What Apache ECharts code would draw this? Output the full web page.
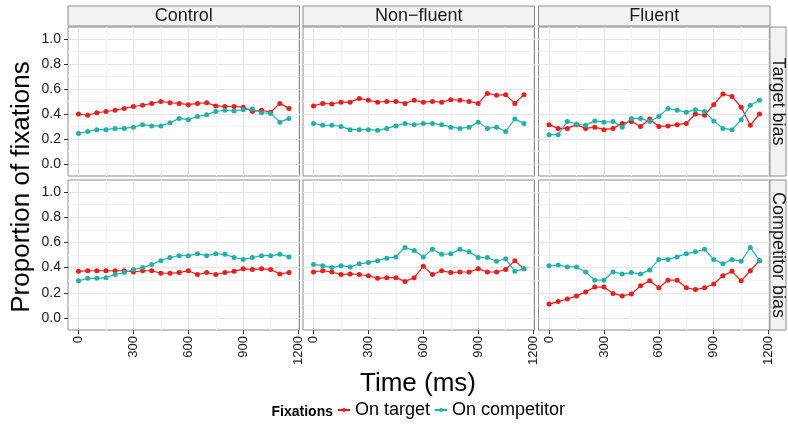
<!DOCTYPE html>
<html><head><meta charset="utf-8">
<script src="https://cdn.jsdelivr.net/npm/echarts@6/dist/echarts.min.js"></script>
<style>html,body{margin:0;padding:0;background:#fff}#c{width:788px;height:428px}</style>
</head><body><div id="c"></div>
<script>
// ---- data ----
const timeMs = [0,50,100,150,200,250,300,350,400,450,500,550,600,650,700,750,800,850,900,950,1000,1050,1100,1150];

const ctrlTargetOnTarget = [0.40,0.39,0.41,0.42,0.43,0.445,0.46,0.47,0.485,0.50,0.49,0.485,0.475,0.485,0.49,0.465,0.46,0.46,0.455,0.42,0.43,0.415,0.485,0.445];
const ctrlTargetOnComp   = [0.245,0.26,0.275,0.275,0.285,0.285,0.295,0.315,0.305,0.305,0.33,0.365,0.355,0.38,0.395,0.42,0.43,0.425,0.435,0.44,0.41,0.405,0.335,0.365];
const nfTargetOnTarget   = [0.465,0.485,0.48,0.495,0.495,0.525,0.51,0.495,0.50,0.50,0.485,0.51,0.495,0.50,0.495,0.515,0.51,0.50,0.485,0.565,0.55,0.555,0.485,0.555];
const nfTargetOnComp     = [0.325,0.31,0.31,0.30,0.275,0.275,0.275,0.27,0.285,0.305,0.325,0.315,0.325,0.325,0.315,0.295,0.285,0.295,0.335,0.285,0.295,0.26,0.36,0.325];
const flTargetOnTarget   = [0.315,0.285,0.285,0.315,0.285,0.295,0.275,0.285,0.325,0.34,0.30,0.36,0.30,0.305,0.315,0.325,0.40,0.39,0.475,0.56,0.54,0.455,0.31,0.40];
const flTargetOnComp     = [0.235,0.235,0.34,0.32,0.31,0.345,0.335,0.34,0.295,0.365,0.365,0.34,0.38,0.445,0.43,0.415,0.435,0.42,0.345,0.285,0.275,0.355,0.47,0.51];

const ctrlCompOnTarget = [0.37,0.375,0.375,0.375,0.375,0.375,0.365,0.375,0.375,0.355,0.355,0.36,0.375,0.345,0.36,0.345,0.36,0.37,0.39,0.385,0.39,0.385,0.35,0.36];
const ctrlCompOnComp   = [0.295,0.315,0.315,0.32,0.345,0.36,0.385,0.40,0.425,0.455,0.48,0.495,0.495,0.51,0.495,0.51,0.505,0.48,0.465,0.48,0.495,0.495,0.505,0.485];
const nfCompOnTarget   = [0.365,0.375,0.365,0.345,0.35,0.345,0.335,0.315,0.32,0.32,0.29,0.32,0.41,0.345,0.375,0.36,0.365,0.365,0.39,0.365,0.365,0.385,0.455,0.39];
const nfCompOnComp     = [0.425,0.415,0.40,0.415,0.405,0.43,0.44,0.455,0.475,0.485,0.56,0.535,0.485,0.545,0.505,0.51,0.545,0.525,0.48,0.48,0.45,0.47,0.37,0.39];
const flCompOnTarget   = [0.11,0.13,0.15,0.175,0.205,0.245,0.245,0.195,0.175,0.19,0.255,0.295,0.24,0.30,0.30,0.24,0.225,0.24,0.27,0.335,0.37,0.295,0.375,0.455];
const flCompOnComp     = [0.415,0.42,0.405,0.405,0.365,0.30,0.30,0.365,0.35,0.36,0.35,0.38,0.465,0.465,0.485,0.51,0.525,0.545,0.465,0.43,0.465,0.45,0.56,0.455];

const xTicks = [0,300,600,900,1200];
const xMinorTicks = [150,450,750,1050];
const yTicks = [0,0.2,0.4,0.6,0.8,1.0];
const yMinorTicks = [0.1,0.3,0.5,0.7,0.9];

const colNames = ['Control','Non\u2212fluent','Fluent'];
const rowNames = ['Target bias','Competitor bias'];
const seriesNames = ['On target','On competitor'];
const seriesColors = ['#F21A1A','#20B2AA'];
const panelData = [
  [[ctrlTargetOnTarget, ctrlTargetOnComp],[nfTargetOnTarget, nfTargetOnComp],[flTargetOnTarget, flTargetOnComp]],
  [[ctrlCompOnTarget, ctrlCompOnComp],[nfCompOnTarget, nfCompOnComp],[flCompOnTarget, flCompOnComp]]
];

// ---- layout ----
const FONT = 'Liberation Sans, Arial, Helvetica, sans-serif';
const colLeft = [68, 303, 538.5], colWidth = 231.5;
const rowTop = [27, 180], rowHeight = [149, 150];
const xMin = -57.5, xMax = 1207.5, yMin = -0.096, yMax = 1.096;

const grid = [], xAxis = [], yAxis = [], series = [], graphic = [];
let gi = 0;
for (let r = 0; r < 2; r++) {
  for (let c = 0; c < 3; c++) {
    grid.push({left: colLeft[c], top: rowTop[r], width: colWidth, height: rowHeight[r],
      show: true, backgroundColor: '#fff', borderColor: '#8c8c8c', borderWidth: 1,
      containLabel: false, outerBoundsMode: 'none'});
    const bottomRow = r === 1, firstCol = c === 0;
    // major x
    xAxis.push({type: 'value', gridIndex: gi, min: xMin, max: xMax, position: 'bottom',
      axisLine: {show: false, onZero: false},
      axisTick: {show: bottomRow, customValues: xTicks, length: 4, lineStyle: {color: '#333', width: 1}},
      axisLabel: {show: bottomRow, customValues: xTicks, rotate: 90, margin: 6, fontSize: 13,
        color: '#1a1a1a', fontFamily: FONT, formatter: v => String(v)},
      splitLine: {show: true, lineStyle: {color: '#E6E6E6', width: 1}}
    });
    // minor x
    xAxis.push({type: 'value', gridIndex: gi, min: xMin, max: xMax, position: 'top',
      axisLine: {show: false, onZero: false},
      axisTick: {show: false, customValues: xMinorTicks},
      axisLabel: {show: false, customValues: xMinorTicks},
      splitLine: {show: true, lineStyle: {color: '#F4F4F4', width: 1}}
    });
    // major y
    yAxis.push({type: 'value', gridIndex: gi, min: yMin, max: yMax, position: 'left',
      axisLine: {show: false, onZero: false},
      axisTick: {show: firstCol, customValues: yTicks, length: 4, lineStyle: {color: '#333', width: 1}},
      axisLabel: {show: firstCol, customValues: yTicks, margin: 7, fontSize: 14, color: '#1a1a1a',
        fontFamily: FONT, formatter: v => v.toFixed(1)},
      splitLine: {show: true, lineStyle: {color: '#E6E6E6', width: 1}}
    });
    // minor y
    yAxis.push({type: 'value', gridIndex: gi, min: yMin, max: yMax, position: 'right',
      axisLine: {show: false, onZero: false},
      axisTick: {show: false, customValues: yMinorTicks},
      axisLabel: {show: false, customValues: yMinorTicks},
      splitLine: {show: true, lineStyle: {color: '#F4F4F4', width: 1}}
    });
    for (let s = 0; s < 2; s++) {
      series.push({type: 'line', name: seriesNames[s], xAxisIndex: 2 * gi, yAxisIndex: 2 * gi,
        data: timeMs.map((t, i) => [t, panelData[r][c][s][i]]),
        symbol: 'circle', symbolSize: 5, showSymbol: true,
        itemStyle: {color: seriesColors[s]}, lineStyle: {color: seriesColors[s], width: 1.2},
        emphasis: {disabled: true}, silent: true, z: 3});
    }
    gi++;
  }
}

// strips (top)
for (let c = 0; c < 3; c++) {
  graphic.push({type: 'rect', shape: {x: colLeft[c], y: 6, width: colWidth, height: 20},
    style: {fill: '#F2F2F2', stroke: '#8c8c8c', lineWidth: 1}, z: 10});
  graphic.push({type: 'text', x: colLeft[c] + colWidth / 2, y: 16,
    style: {text: colNames[c], font: '18px ' + FONT, fill: '#1a1a1a', align: 'center', verticalAlign: 'middle'}, z: 11});
}
// strips (right)
for (let r = 0; r < 2; r++) {
  graphic.push({type: 'rect', shape: {x: 770, y: rowTop[r], width: 16, height: rowHeight[r]},
    style: {fill: '#F2F2F2', stroke: '#8c8c8c', lineWidth: 1}, z: 10});
  graphic.push({type: 'text', x: 778, y: rowTop[r] + rowHeight[r] / 2, rotation: -Math.PI / 2,
    style: {text: rowNames[r], font: '18px ' + FONT, fill: '#1a1a1a', align: 'center', verticalAlign: 'middle'}, z: 11});
}
// axis titles
graphic.push({type: 'text', x: 22, y: 187, rotation: Math.PI / 2,
  style: {text: 'Proportion of fixations', font: '26px ' + FONT, fill: '#000', align: 'center', verticalAlign: 'middle'}});
graphic.push({type: 'text', x: 418, y: 384,
  style: {text: 'Time (ms)', font: '26px ' + FONT, fill: '#000', align: 'center', verticalAlign: 'middle'}});
graphic.push({type: 'text', x: 333, y: 412,
  style: {text: 'Fixations', font: 'bold 14px ' + FONT, fill: '#000', align: 'right', verticalAlign: 'middle'}});

const chart = echarts.init(document.getElementById('c'), null, {renderer: 'canvas'});
chart.setOption({
  animation: false,
  backgroundColor: '#fff',
  textStyle: {fontFamily: FONT},
  grid, xAxis, yAxis, series, graphic,
  legend: {data: seriesNames, left: 337, top: 401, padding: 0, itemWidth: 12, itemHeight: 5, itemGap: 4,
    textStyle: {fontSize: 18, color: '#000', fontFamily: FONT}, selectedMode: false}
});
</script></body></html>
